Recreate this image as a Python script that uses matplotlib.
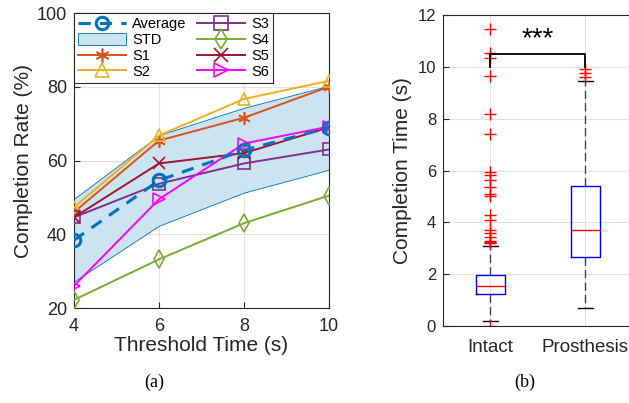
import numpy as np
import matplotlib
matplotlib.use('Agg')
import matplotlib.pyplot as plt
from matplotlib.patches import Patch
from matplotlib.lines import Line2D

plt.rcParams['font.family'] = ['Liberation Sans', 'DejaVu Sans']

# %% data, (a) completion rate vs threshold time
thresholds = [4, 6, 8, 10]
s1 = [46.0, 65.4, 71.6, 80.0]
s2 = [47.3, 66.8, 76.7, 81.6]
s3 = [44.6, 53.7, 59.2, 63.0]
s4 = [22.2, 33.2, 43.0, 50.5]
s5 = [44.6, 59.2, 62.0, 69.0]
s6 = [26.0, 49.5, 64.6, 69.2]
average = [38.4, 54.6, 62.8, 68.9]
std = [11.2, 12.3, 11.5, 11.4]

# %% data, (b) completion time boxplot
groups = ['Intact', 'Prosthesis']
intact_stats = dict(q1=1.22, med=1.55, q3=1.97, whislo=0.18, whishi=3.1,
                    fliers=[0.0, 3.2, 3.25, 3.3, 3.45, 3.6, 3.7, 4.1, 4.3,
                            5.0, 5.1, 5.38, 5.64, 5.83, 5.96, 7.4, 8.2,
                            9.65, 10.35, 10.55, 11.45])
prosthesis_stats = dict(q1=2.68, med=3.72, q3=5.42, whislo=0.68, whishi=9.45,
                        fliers=[9.6, 9.75, 9.9])
sig_label = '***'

colors = {'avg': '#0072BD', 'S1': '#D95319', 'S2': '#EDB120',
          'S3': '#7E2F8E', 'S4': '#77AC30', 'S5': '#A2142F', 'S6': '#FF00FF'}
spine_c = '#262626'
grid_c = '#E0E0E0'

fig = plt.figure(figsize=(6.29, 4.03), dpi=100)

# %% (a)
ax = fig.add_axes([0.1176, 0.2357, 0.4054, 0.732])
avg = np.array(average)
sd = np.array(std)
ax.fill_between(thresholds, avg - sd, avg + sd, facecolor='#CCE3F2',
                edgecolor=colors['avg'], linewidth=0.6, zorder=2)
ax.plot(thresholds, avg, '--o', color=colors['avg'], lw=2.2, ms=9,
        mfc='none', mew=2.2, zorder=5, dashes=(4, 3))
series = [('S1', s1, (6, 2, 0)), ('S2', s2, '^'), ('S3', s3, 's'),
          ('S4', s4, 'd'), ('S5', s5, 'x'), ('S6', s6, '>')]
for name, vals, mk in series:
    ax.plot(thresholds, vals, marker=mk, color=colors[name], lw=1.4, ms=9,
            mfc='none', mew=1.2, zorder=4)

ax.set_xlim(4, 10)
ax.set_ylim(20, 100)
ax.set_xticks(thresholds)
ax.set_yticks(range(20, 101, 20))
ax.grid(True, color=grid_c, lw=0.8)
ax.set_axisbelow(True)
ax.tick_params(direction='in', labelsize=13, colors=spine_c, length=4)
ax.tick_params(axis='x', pad=7)
ax.tick_params(axis='y', pad=5)
for sp in ax.spines.values():
    sp.set_color(spine_c)
ax.set_xlabel('Threshold Time (s)', fontsize=15, color=spine_c, labelpad=1)
ax.set_ylabel('Completion Rate (%)', fontsize=15, color=spine_c, labelpad=3)

handles = [Line2D([], [], ls='--', marker='o', color=colors['avg'], lw=2.2,
                  ms=9, mfc='none', mew=2.2, dashes=(4, 3)),
           Patch(facecolor='#CCE3F2', edgecolor=colors['avg'], lw=0.6)]
for name, vals, mk in series:
    handles.append(Line2D([], [], marker=mk, color=colors[name], lw=1.4,
                          ms=10, mfc='none', mew=1.2))
labels = ['Average', 'STD', 'S1', 'S2', 'S3', 'S4', 'S5', 'S6']
leg = ax.legend(handles, labels, ncol=2, loc='upper left', fontsize=10.5,
                borderaxespad=0, fancybox=False, framealpha=1,
                edgecolor=spine_c, handlelength=3.3, labelspacing=0.12,
                columnspacing=0.7, handletextpad=0.4, borderpad=0.3,
                handleheight=0.9)
leg.get_frame().set_linewidth(0.8)

# %% (b)
bx = fig.add_axes([0.7043, 0.191, 0.302, 0.7717])
stats = [dict(intact_stats, label=groups[0]),
         dict(prosthesis_stats, label=groups[1])]
bx.bxp(stats, positions=[1, 2], widths=0.3, showfliers=True,
       boxprops=dict(color='#0000FF', lw=1.0),
       medianprops=dict(color='#FF0000', lw=1.0),
       whiskerprops=dict(color='#000000', lw=1.0, ls=(0, (6, 3)), alpha=0.7),
       capprops=dict(color='#000000', lw=1.0),
       flierprops=dict(marker='+', markeredgecolor='#FF0000', ms=9, mew=1.0))
bx.plot([1, 1, 2, 2], [10.0, 10.5, 10.5, 10.0], color='black', lw=1.3,
        clip_on=False)
bx.text(1.5, 10.55, sig_label, ha='center', va='bottom', fontsize=20)
bx.set_xlim(0.5, 2.5)
bx.set_ylim(0, 12)
bx.set_yticks(range(0, 13, 2))
bx.grid(True, color=grid_c, lw=0.8)
bx.set_axisbelow(True)
bx.tick_params(direction='in', labelsize=12, colors=spine_c, length=4)
bx.tick_params(axis='x', length=0, pad=9, labelsize=13.5)
bx.tick_params(axis='y', pad=5)
for sp in bx.spines.values():
    sp.set_color(spine_c)
bx.set_ylabel('Completion Time (s)', fontsize=15, color=spine_c, labelpad=4)

# captions
fig.text(0.2456, 0.04, '(a)', ha='center', fontsize=13,
         family=['Liberation Serif', 'DejaVu Serif'])
fig.text(0.8347, 0.04, '(b)', ha='center', fontsize=13,
         family=['Liberation Serif', 'DejaVu Serif'])

fig.savefig('out.png', dpi=100)
